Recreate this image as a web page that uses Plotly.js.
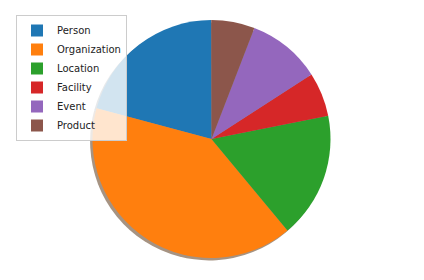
<!DOCTYPE html>
<html><head><meta charset="utf-8">
<script src="https://cdn.plot.ly/plotly-3.0.1.min.js"></script>
<style>html,body{margin:0;padding:0;background:#fff}#c{width:424px;height:280px}</style>
</head><body><div id="c"></div>
<script>
const categories = ["Person", "Organization", "Location", "Facility", "Event", "Product"];
const shares = [20.8, 40.2, 17.1, 6.0, 10.0, 5.9];
const colors = ["#1f77b4", "#ff7f0e", "#2ca02c", "#d62728", "#9467bd", "#8c564b"];

function shadowOf(hex) {
  const r = parseInt(hex.slice(1,3),16), g = parseInt(hex.slice(3,5),16), b = parseInt(hex.slice(5,7),16);
  const f = v => Math.round(0.5*255 + 0.5*0.3*v);
  return `rgb(${f(r)},${f(g)},${f(b)})`;
}

const W = 424, H = 280, cx = 211.5, cy = 139, R = 119, off = 2.4;
const dom = (dx, dy) => ({
  x: [(cx - R + dx)/W, (cx + R + dx)/W],
  y: [1 - (cy + R + dy)/H, 1 - (cy - R + dy)/H]
});
const rot = 285;

const shadow = {
  type: 'pie', labels: categories, values: shares, sort: false,
  direction: 'counterclockwise', rotation: rot, textinfo: 'none', hoverinfo: 'skip',
  marker: {colors: colors.map(shadowOf), line: {width: 0}},
  domain: dom(-off, off), showlegend: false
};
const pie = {
  type: 'pie', labels: categories, values: shares, sort: false,
  direction: 'counterclockwise', rotation: rot, textinfo: 'none', hoverinfo: 'label+percent',
  marker: {colors: colors, line: {width: 0}},
  domain: dom(0, 0)
};

Plotly.newPlot('c', [shadow, pie], {
  width: W, height: H, margin: {l:0, r:0, t:0, b:0},
  paper_bgcolor: '#fff', plot_bgcolor: '#fff',
  font: {family: 'DejaVu Sans', size: 10, color: '#222'},
  legend: {x: 16/W, y: 1 - 15/H, xanchor: 'left', yanchor: 'top',
    bgcolor: 'rgba(255,255,255,0.8)', bordercolor: '#cccccc', borderwidth: 1,
    font: {family: 'DejaVu Sans', size: 10, color: '#222'}}
}, {staticPlot: true});
</script></body></html>
